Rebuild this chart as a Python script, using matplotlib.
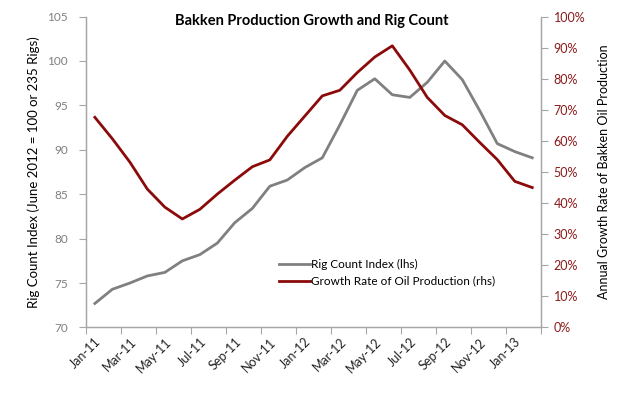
import matplotlib.pyplot as plt
import numpy as np
from matplotlib.ticker import FixedLocator, FuncFormatter

plt.rcParams["font.family"] = ["Lato", "DejaVu Sans"]

# Monthly observations, Jan-11 .. Feb-13
months = ["Jan-11", "Feb-11", "Mar-11", "Apr-11", "May-11", "Jun-11", "Jul-11",
          "Aug-11", "Sep-11", "Oct-11", "Nov-11", "Dec-11", "Jan-12", "Feb-12",
          "Mar-12", "Apr-12", "May-12", "Jun-12", "Jul-12", "Aug-12", "Sep-12",
          "Oct-12", "Nov-12", "Dec-12", "Jan-13", "Feb-13"]
rig_index = [72.7, 74.3, 75.0, 75.8, 76.2, 77.5, 78.2, 79.5, 81.8, 83.4, 85.9,
             86.6, 88.0, 89.1, 92.8, 96.7, 98.0, 96.2, 95.9, 97.6, 100.0,
             97.9, 94.4, 90.7, 89.8, 89.1]
growth_pct = [67.6, 60.7, 53.2, 44.5, 38.7, 34.9, 38.0, 42.9, 47.4, 51.7, 53.9,
              61.5, 68.0, 74.5, 76.3, 82.0, 87.0, 90.6, 82.8, 74.0, 68.2,
              65.2, 59.5, 54.0, 47.0, 45.0]

GRAY = "#808080"
RED = "#8b0a0a"
AXIS_GRAY = "#a6a6a6"
LEFT_TICK = "#7f7f7f"
RIGHT_TICK = "#8b1a1a"

fig = plt.figure(figsize=(6.24, 3.95), dpi=100)
ax = fig.add_axes([0.138, 0.171, 0.729, 0.787])
ax2 = ax.twinx()

x = np.arange(len(months))
l1, = ax.plot(x, rig_index, color=GRAY, lw=2.0, label="Rig Count Index (lhs)")
l2, = ax2.plot(x, growth_pct, color=RED, lw=2.0,
               label="Growth Rate of Oil Production (rhs)")

ax.set_xlim(-0.5, len(months) - 0.5)
ax.set_ylim(70, 105)
ax.set_yticks(np.arange(70, 106, 5))
ax2.set_ylim(0, 100)
ax2.set_yticks(np.arange(0, 101, 10))
ax2.yaxis.set_major_formatter(FuncFormatter(lambda v, p: f"{v:.0f}%"))

# category labels every 2 months, tick marks between categories
ax.set_xticks(x[::2])
ax.set_xticklabels(months[::2], rotation=45, ha="right", rotation_mode="anchor",
                   fontsize=9, color="#222222")
ax.xaxis.set_minor_locator(FixedLocator(np.arange(-0.5, len(months), 2)))
ax.tick_params(axis="x", which="major", length=0, pad=6)
ax.tick_params(axis="x", which="minor", length=5, color=AXIS_GRAY, width=0.8)

ax.tick_params(axis="y", length=5, color=AXIS_GRAY, width=0.8,
               labelsize=8.5, labelcolor=LEFT_TICK, pad=8)
ax2.tick_params(axis="y", length=5, color=AXIS_GRAY, width=0.8,
                labelsize=9, labelcolor=RIGHT_TICK, pad=4)

for a in (ax, ax2):
    a.spines["top"].set_visible(False)
    for s in ("left", "right", "bottom"):
        a.spines[s].set_color(AXIS_GRAY)
        a.spines[s].set_linewidth(0.9)

ax.set_ylabel("Rig Count Index (June 2012 = 100 or 235 Rigs)", fontsize=9.5,
              color="black", labelpad=5)
ax2.set_ylabel("Annual Growth Rate of Bakken Oil Production", fontsize=9,
               color="black", labelpad=9)

fig.text(0.5, 0.948, "Bakken Production Growth and Rig Count", ha="center",
         va="center", fontsize=10.5, fontweight="bold")

ax2.legend(handles=[l1, l2], loc="upper left", bbox_to_anchor=(0.411, 0.24),
           frameon=False, fontsize=8.5, handlelength=2.6, handletextpad=0.1,
           labelspacing=0.5, borderpad=0)

fig.savefig("out.png", dpi=100)
